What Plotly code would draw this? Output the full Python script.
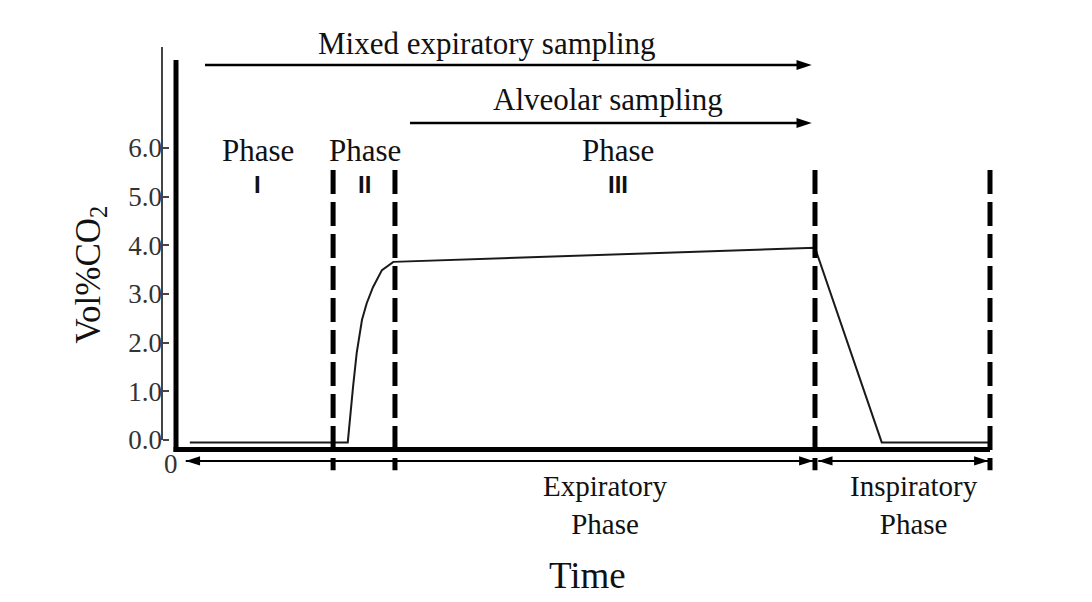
import plotly.graph_objects as go

# ---------------- data ----------------
# capnogram curve: time (arbitrary units) vs Vol% CO2
time_pts = [0.17, 2.11, 2.175, 2.22, 2.285, 2.343, 2.42, 2.48, 2.53, 2.67, 7.85, 8.67, 10.0]
co2_pts = [-0.05, -0.05, 1.09, 1.79, 2.47, 2.81, 3.14, 3.35, 3.49, 3.66, 3.95, -0.05, -0.05]

# phase boundaries (dashed verticals)
phase_bounds = [1.93, 2.69, 7.85, 10.0]

# y axis ticks
y_ticks = [0, 1, 2, 3, 4, 5, 6]
y_tick_labels = ["0.0", "1.0", "2.0", "3.0", "4.0", "5.0", "6.0"]

# phase labels
phase_names = ["I", "II", "III"]
phase_label_t = [1.007, 2.32, 5.43]

# sampling arrows (start, end, level)
sampling_labels = ["Mixed expiratory sampling", "Alveolar sampling"]
sampling_start = [0.356, 2.875]
sampling_end = [7.81, 7.81]
sampling_level = [7.705, 6.513]
sampling_text_t = [3.82, 5.307]
sampling_text_v = [8.157, 6.986]

# respiratory phase arrows
resp_labels = ["Expiratory<br>Phase", "Inspiratory<br>Phase"]
resp_start = [0.12, 7.89]
resp_end = [7.83, 9.98]
resp_level = -0.43
resp_text_t = [5.28, 9.066]

# ---------------- layout constants ----------------
SERIF = "Liberation Serif, Times New Roman, serif"
SANS = "Liberation Sans, Arial, sans-serif"
X_RANGE = [-2.1622, 11.2531]
Y_RANGE = [-3.3285, 9.0405]
Y_AXIS_POS = 162 / 1092
LABEL_SIZE = 31

fig = go.Figure()

# the CO2 curve
fig.add_trace(go.Scatter(
    x=time_pts, y=co2_pts, mode="lines",
    line=dict(color="#1a1a1a", width=2),
    hoverinfo="skip", showlegend=False,
))

# sampling arrows (single head at the end)
for s, e, lv in zip(sampling_start, sampling_end, sampling_level):
    fig.add_trace(go.Scatter(
        x=[s, e], y=[lv, lv], mode="lines+markers",
        line=dict(color="black", width=2.5),
        marker=dict(symbol="arrow", angleref="previous", size=16,
                    color="black", line=dict(width=0)),
        hoverinfo="skip", showlegend=False,
    ))

# respiratory-phase arrows (double heads)
for s, e in zip(resp_start, resp_end):
    fig.add_trace(go.Scatter(
        x=[e, s, e], y=[resp_level] * 3, mode="lines+markers",
        line=dict(color="black", width=2),
        marker=dict(symbol="arrow", angleref="previous", size=15,
                    color="black", line=dict(width=0)),
        hoverinfo="skip", showlegend=False,
    ))

shapes = []
# thin y-axis line
shapes.append(dict(type="line", xref="paper", yref="y",
                   x0=Y_AXIS_POS, x1=Y_AXIS_POS, y0=0, y1=8.075,
                   line=dict(color="#444", width=2)))
# heavy frame (left + bottom)
shapes.append(dict(type="line", xref="x", yref="y",
                   x0=0, x1=0, y0=-0.245, y1=7.81,
                   line=dict(color="black", width=5)))
shapes.append(dict(type="line", xref="x", yref="y",
                   x0=-0.03, x1=phase_bounds[-1], y0=-0.195, y1=-0.195,
                   line=dict(color="black", width=5)))
# dashed phase boundaries
for b in phase_bounds:
    shapes.append(dict(type="line", xref="x", yref="y",
                       x0=b, x1=b, y0=5.55, y1=-0.62,
                       line=dict(color="black", width=5, dash="24px,8px")))

annotations = []
# sampling labels
for lab, tt, tv in zip(sampling_labels, sampling_text_t, sampling_text_v):
    annotations.append(dict(x=tt, y=tv, xref="x", yref="y", text=lab,
                            showarrow=False,
                            font=dict(family=SERIF, size=LABEL_SIZE, color="#111")))

# phase labels
for name, t in zip(phase_names, phase_label_t):
    annotations.append(dict(x=t, y=(440 - 150) / 48.67, xref="x", yref="y",
                            text="Phase", showarrow=False,
                            font=dict(family=SERIF, size=LABEL_SIZE, color="#111")))
    annotations.append(dict(x=t, y=(440 - 184) / 48.67, xref="x", yref="y",
                            text="<b>" + name + "</b>", showarrow=False,
                            font=dict(family=SANS, size=24, color="#111")))

# respiratory phase labels (two lines each)
for lab, tt in zip(resp_labels, resp_text_t):
    annotations.append(dict(x=tt, y=(440 - 505) / 48.67, xref="x", yref="y",
                            text=lab, showarrow=False, align="center",
                            font=dict(family=SERIF, size=29, color="#111")))

# time origin "0"
annotations.append(dict(x=Y_AXIS_POS, y=-0.49, xref="paper", yref="y", text="0",
                        showarrow=False,
                        font=dict(family=SERIF, size=27, color="#333")))
# axis titles
annotations.append(dict(x=5.06, y=-2.774, xref="x", yref="y", text="Time",
                        showarrow=False,
                        font=dict(family=SERIF, size=37, color="#111")))
annotations.append(dict(x=-1.06, y=3.39, xref="x", yref="y",
                        text="Vol%CO<sub>2</sub>", textangle=-90,
                        showarrow=False,
                        font=dict(family=SERIF, size=35, color="#111")))

fig.update_layout(
    width=1092, height=602,
    margin=dict(l=0, r=0, t=0, b=0),
    paper_bgcolor="white", plot_bgcolor="white",
    showlegend=False,
    xaxis=dict(range=X_RANGE, visible=False, fixedrange=True),
    yaxis=dict(range=Y_RANGE, anchor="free", position=Y_AXIS_POS,
               tickvals=y_ticks, ticktext=y_tick_labels,
               ticks="inside", ticklen=6, tickwidth=2, tickcolor="#444",
               showline=False, showgrid=False, zeroline=False,
               tickfont=dict(family=SERIF, size=27, color="#333"),
               fixedrange=True),
    shapes=shapes,
    annotations=annotations,
)

fig.write_html(
    "out.html",
    config={"displayModeBar": False, "staticPlot": True},
    post_script="document.body.style.margin='0';document.body.style.overflow='hidden';",
)
